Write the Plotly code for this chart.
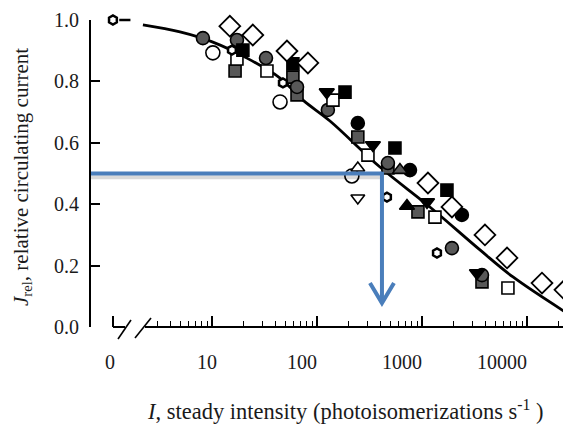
import plotly.graph_objects as go

# intensity (photoisomerizations/s) and relative current
I_zero = 1.14   # where the "0" intensity sits on the broken axis

curve_I = [2.2, 4.96, 10.2, 21.5, 44.5, 73.6, 133, 398, 1190, 3570, 7360, 25700]
curve_J = [0.984, 0.961, 0.928, 0.876, 0.811, 0.739, 0.671, 0.521, 0.391, 0.251, 0.163, 0.039]

diam_open_I = [14.8, 24.5, 51.8, 82, 1140, 1930, 3980, 6460, 13900, 23000]
diam_open_J = [0.980, 0.951, 0.899, 0.860, 0.469, 0.391, 0.300, 0.225, 0.143, 0.121]

circ_open_I = [10.2, 44.5, 215]
circ_open_J = [0.893, 0.733, 0.492]

circ_gray_I = [8.2, 17.3, 32.7, 64.6, 127, 474, 1930, 3730]
circ_gray_J = [0.941, 0.935, 0.876, 0.782, 0.707, 0.534, 0.257, 0.169]

circ_black_I = [245, 769, 2400]
circ_black_J = [0.664, 0.511, 0.365]

sq_open_I = [17.3, 33.4, 142, 306, 1330, 6590]
sq_open_J = [0.873, 0.834, 0.739, 0.560, 0.358, 0.127]

sq_black_I = [19.7, 59, 185, 553, 1730]
sq_black_J = [0.902, 0.857, 0.765, 0.583, 0.446]

sq_gray_I = [16.6, 59, 64.6, 245, 474, 916, 3730]
sq_gray_J = [0.834, 0.814, 0.756, 0.619, 0.518, 0.375, 0.147]

tri_down_I = [124, 341, 1117, 3340]
tri_down_J = [0.765, 0.593, 0.407, 0.176]

tri_up_black_I = [720]
tri_up_black_J = [0.394]
tri_up_gray_I = [617]
tri_up_gray_J = [0.511]
tri_up_open_I = [245]
tri_up_open_J = [0.518]
tri_down_open_I = [245]
tri_down_open_J = [0.420]

hex_I = [I_zero, 15.5, 47.4, 464, 1390]
hex_J = [1.0, 0.902, 0.795, 0.423, 0.241]

dash_I = [1.48]
dash_J = [1.0]

# arrow marking the half-response intensity
arrow_J = 0.5
arrow_I = 416
arrow_end_J = 0.078

x_tick_text = ["0", "10", "100", "1000", "10000"]
x_tick_px = [110, 207, 302, 402, 502]   # label centres as printed
y_ticks = [0, 0.2, 0.4, 0.6, 0.8, 1.0]
minor_vals = [m * 10 ** k for k in range(0, 5) for m in range(2, 10) if m * 10 ** k >= 3]

# page body has an 8px margin, so the figure is drawn 8px smaller
PAD = 8
L, T = 91, 20          # plot-area corner in window pixels
PW, PH = 480, 307
x_range = [-0.152, -0.152 + PW / 105]

def px(xp):
    return (xp - L) / PW

def py(yp):
    return (T + PH - yp) / PH

serif = "Liberation Serif"
ink = "#1a1a1a"

fig = go.Figure()
fig.add_trace(go.Scatter(x=curve_I, y=curve_J, mode="lines",
                         line=dict(color="black", width=2.8, shape="spline", smoothing=1.0)))

def pts(xs, ys, symbol, fill, size, lw=1.6):
    fig.add_trace(go.Scatter(x=xs, y=ys, mode="markers", cliponaxis=False,
                             marker=dict(symbol=symbol, color=fill, size=size,
                                         line=dict(color="black", width=lw))))

pts(sq_gray_I, sq_gray_J, "square", "#585858", 12)
pts(circ_gray_I, circ_gray_J, "circle", "#585858", 13)
pts(sq_open_I, sq_open_J, "square", "white", 12)
pts(sq_black_I, sq_black_J, "square", "black", 12)
pts(circ_open_I, circ_open_J, "circle", "white", 14)
pts(circ_black_I, circ_black_J, "circle", "black", 13)
pts(diam_open_I, diam_open_J, "diamond", "white", 16, lw=1.8)
pts(tri_down_I, tri_down_J, "triangle-down", "black", 13)
pts(tri_up_black_I, tri_up_black_J, "triangle-up", "black", 13)
pts(tri_up_gray_I, tri_up_gray_J, "triangle-up", "#585858", 13)
pts(tri_up_open_I, tri_up_open_J, "triangle-up", "white", 12)
pts(tri_down_open_I, tri_down_open_J, "triangle-down", "white", 12)
pts(hex_I, hex_J, "hexagon", "white", 9, lw=2.5)
pts(dash_I, dash_J, "line-ew", "black", 8, lw=2.5)

shapes = []
# broken x axis: short stub, two slashes, then the main axis
shapes.append(dict(type="line", xref="paper", yref="paper", x0=px(113), x1=px(125), y0=0, y1=0,
                   line=dict(color="black", width=2)))
shapes.append(dict(type="line", xref="paper", yref="paper", x0=px(145), x1=1.0, y0=0, y1=0,
                   line=dict(color="black", width=2)))
shapes.append(dict(type="line", xref="paper", yref="paper", x0=px(118), x1=px(131), y0=py(339), y1=py(320),
                   line=dict(color="black", width=1.6)))
shapes.append(dict(type="line", xref="paper", yref="paper", x0=px(135), x1=px(151), y0=py(338), y1=py(318),
                   line=dict(color="black", width=1.6)))

# blue arrow with soft shadow
x_start = 10 ** (x_range[0] - 4 / 105)
blue = "#4a7ebb"
shapes.append(dict(type="line", xref="x", yref="y", x0=x_start, x1=arrow_I,
                   y0=arrow_J - 0.012, y1=arrow_J - 0.012, line=dict(color="rgba(0,0,0,0.15)", width=4)))
shapes.append(dict(type="line", xref="x", yref="y", x0=x_start, x1=arrow_I,
                   y0=arrow_J, y1=arrow_J, line=dict(color=blue, width=4)))
shapes.append(dict(type="line", xref="x", yref="y", x0=arrow_I, x1=arrow_I,
                   y0=arrow_J + 0.006, y1=arrow_end_J + 0.01, line=dict(color=blue, width=4)))
shapes.append(dict(type="path", xref="x", yref="y", xsizemode="pixel", ysizemode="pixel",
                   xanchor=arrow_I, yanchor=arrow_end_J, path="M -12,20 L 0,0 L 12,20",
                   line=dict(color=blue, width=4)))

annotations = []
for t, xp in zip(x_tick_text, x_tick_px):
    annotations.append(dict(text=t, xref="paper", yref="paper", x=px(xp), y=py(362),
                            xanchor="center", yanchor="middle", showarrow=False,
                            font=dict(family=serif, size=20, color=ink)))
annotations.append(dict(text="<i>I</i>, steady intensity (photoisomerizations s<sup>-1</sup> )",
                        xref="paper", yref="paper", x=px(345), y=py(410),
                        xanchor="center", yanchor="middle", showarrow=False,
                        font=dict(family=serif, size=22.5, color=ink)))
annotations.append(dict(text="<i>J</i><sub>rel</sub>, relative circulating current",
                        xref="paper", yref="paper", x=px(22), y=py(177), textangle=-90,
                        xanchor="center", yanchor="middle", showarrow=False,
                        font=dict(family=serif, size=21, color=ink)))

fig.update_layout(
    width=571 - PAD, height=429 - PAD,
    margin=dict(l=L - PAD, r=0, t=T - PAD, b=429 - T - PH),
    paper_bgcolor="white", plot_bgcolor="white",
    showlegend=False,
    shapes=shapes, annotations=annotations,
    xaxis=dict(type="log", range=x_range, automargin=False, showgrid=False, zeroline=False,
               showline=False, tickmode="array", tickvals=[I_zero, 10, 100, 1000, 10000],
               showticklabels=False, ticks="inside", ticklen=11, tickwidth=1.6, tickcolor="black",
               minor=dict(tickmode="array", tickvals=minor_vals, ticks="inside",
                          ticklen=6, tickwidth=1.3, tickcolor="black")),
    yaxis=dict(range=[0, 1], automargin=False, showgrid=False, zeroline=False, showline=True,
               linecolor="black", linewidth=2, tickmode="array", tickvals=y_ticks, tickformat=".1f",
               ticks="inside", ticklen=9, tickwidth=2, tickcolor="black",
               ticklabelstandoff=6, tickfont=dict(family=serif, size=20, color=ink)),
)

fig.write_html("out.html")
